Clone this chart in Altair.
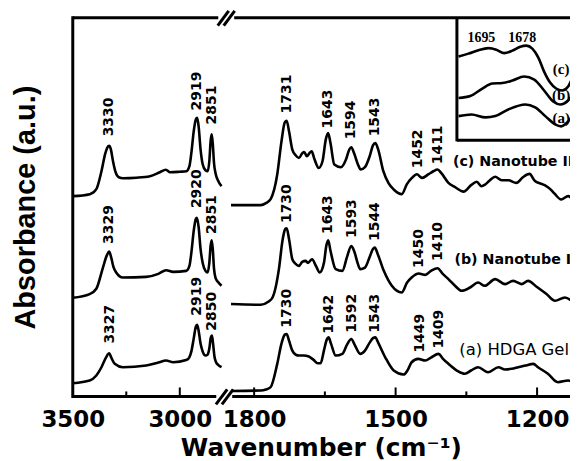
import altair as alt
import pandas as pd

# ---------------- data ----------------
# high-wavenumber window (3500-2800 cm-1)
hi_wave_c = [3500,3420,3390,3366,3348,3338,3330,3322,3312,3300,3285,3265,3203,3140,3093,3065,3045,3000,2969,2955,2945,2935,2925,2919,2912,2903,2893,2880,2870,2862,2856,2851,2846,2840,2833,2822,2805]
hi_abs_c = [2.01,2.03,2.08,2.26,2.44,2.50,2.515,2.48,2.36,2.25,2.20,2.19,2.195,2.21,2.25,2.275,2.25,2.255,2.26,2.31,2.46,2.66,2.78,2.795,2.71,2.48,2.33,2.27,2.26,2.36,2.56,2.63,2.54,2.34,2.24,2.17,2.11]
hi_wave_b = [3500,3421,3390,3359,3340,3330,3320,3310,3297,3266,3157,3100,3064,3031,2970,2955,2945,2935,2925,2920,2912,2903,2893,2880,2870,2862,2856,2851,2846,2840,2833,2822,2805]
hi_abs_b = [0.99,1.027,1.08,1.293,1.42,1.453,1.39,1.30,1.243,1.193,1.20,1.23,1.267,1.25,1.26,1.31,1.46,1.66,1.78,1.793,1.70,1.48,1.34,1.26,1.243,1.34,1.51,1.567,1.48,1.28,1.19,1.15,1.11]
hi_wave_a = [3500,3421,3390,3366,3345,3330,3320,3304,3266,3157,3100,3064,3031,2970,2956,2945,2935,2925,2919,2912,2903,2893,2880,2870,2862,2855,2850,2845,2838,2830,2822,2805]
hi_abs_a = [0.133,0.16,0.21,0.293,0.39,0.433,0.39,0.327,0.293,0.31,0.34,0.36,0.343,0.365,0.39,0.46,0.58,0.70,0.72,0.66,0.53,0.45,0.41,0.42,0.48,0.59,0.61,0.54,0.40,0.34,0.32,0.293]

# low-wavenumber window (1860-1110 cm-1)
lo_wave_c = [1849,1786,1775,1765,1751,1742,1735,1731,1726,1719,1712,1705,1698,1694,1688,1683,1678,1672,1663,1655,1648,1643,1638,1630,1616,1605,1598,1594,1588,1580,1574,1565,1555,1548,1543,1537,1526,1515,1504,1487,1476,1466,1455,1444,1430,1420,1411,1403,1388,1374,1356,1340,1328,1318,1310,1300,1289,1275,1261,1244,1230,1216,1205,1195,1184,1172,1163,1149,1134,1125,1113]
lo_abs_c = [1.92,1.92,1.94,1.98,2.227,2.56,2.75,2.767,2.66,2.477,2.42,2.393,2.44,2.453,2.41,2.44,2.46,2.38,2.293,2.36,2.58,2.643,2.54,2.327,2.30,2.38,2.48,2.50,2.44,2.33,2.277,2.30,2.41,2.52,2.543,2.48,2.26,2.14,2.077,2.03,2.13,2.19,2.23,2.193,2.23,2.26,2.277,2.24,2.143,2.10,2.055,2.12,2.155,2.11,2.127,2.17,2.205,2.17,2.17,2.143,2.20,2.233,2.165,2.14,2.12,2.08,2.035,1.977,2.01,1.98,1.943]
lo_wave_b = [1849,1786,1770,1761,1747,1740,1734,1731,1726,1719,1712,1705,1698,1691,1686,1677,1669,1661,1652,1647,1643,1638,1627,1613,1603,1594,1588,1580,1575,1565,1555,1548,1544,1538,1525,1508,1487,1476,1466,1451,1437,1425,1411,1400,1388,1374,1360,1342,1325,1311,1289,1268,1251,1233,1219,1201,1180,1162,1141,1120,1110]
lo_abs_b = [0.927,0.92,0.95,0.993,1.293,1.56,1.68,1.687,1.58,1.377,1.33,1.31,1.35,1.36,1.34,1.377,1.31,1.243,1.34,1.51,1.567,1.46,1.277,1.26,1.40,1.51,1.46,1.33,1.277,1.293,1.40,1.48,1.493,1.43,1.26,1.11,1.043,1.14,1.193,1.233,1.22,1.26,1.287,1.23,1.177,1.11,1.06,1.093,1.143,1.11,1.177,1.127,1.16,1.127,1.16,1.10,1.027,0.96,0.993,0.943,0.93]
lo_wave_a = [1849,1786,1775,1765,1751,1742,1735,1731,1726,1719,1712,1705,1695,1684,1674,1665,1659,1652,1646,1642,1637,1627,1613,1603,1594,1587,1575,1565,1555,1548,1543,1537,1522,1504,1483,1475,1466,1452,1437,1425,1409,1400,1388,1370,1353,1340,1325,1304,1282,1268,1254,1240,1225,1208,1198,1177,1156,1134,1113]
lo_abs_a = [0.055,0.06,0.07,0.093,0.327,0.53,0.62,0.627,0.56,0.46,0.42,0.41,0.41,0.40,0.367,0.333,0.333,0.46,0.57,0.593,0.53,0.41,0.427,0.52,0.577,0.52,0.427,0.46,0.54,0.585,0.593,0.54,0.393,0.26,0.22,0.26,0.343,0.377,0.36,0.39,0.427,0.38,0.327,0.26,0.227,0.26,0.293,0.243,0.293,0.27,0.277,0.293,0.31,0.327,0.293,0.227,0.143,0.16,0.11]

# peak annotations
hi_peak_text = ["3330","2919","2851","3329","2920","2851","3327","2919","2850"]
hi_peak_wave = [3330,2919,2851,3329,2920,2851,3327,2919,2850]
hi_peak_abs = [2.61,2.87,2.73,1.53,1.89,1.63,0.53,0.81,0.66]
lo_peak_text = ["1731","1643","1594","1543","1452","1411","1730","1643","1593","1544","1450","1410","1730","1642","1592","1543","1449","1409"]
lo_peak_wave = [1731,1643,1594,1543,1452,1411,1730,1643,1593,1544,1450,1410,1730,1642,1592,1543,1449,1409]
lo_peak_abs = [2.84,2.69,2.58,2.61,2.29,2.33,1.74,1.63,1.59,1.56,1.29,1.36,0.69,0.63,0.64,0.64,0.44,0.48]

# sample labels
sample_text = ["(c) Nanotube II", "(b) Nanotube I", "(a) HDGA Gel"]
sample_wave = [1378.5, 1375.3, 1365]
sample_abs = [2.35, 1.37, 0.47]
sample_weight = ["bold", "bold", "normal"]

# axis ticks
hi_tick_labels = [3500, 3000]
hi_major_ticks = [3000]
hi_minor_ticks = [3250]
lo_tick_labels = [1800, 1500, 1200]
lo_major_ticks = [1800, 1500, 1200]
lo_minor_ticks = [1650, 1350]

# inset (1705-1655 cm-1)
in_wave_c = [1704.5,1700.4,1696.2,1692.1,1688.8,1685.5,1682.1,1678.8,1676.3,1673.8,1671.3,1668.9,1666.4,1663.9,1661.4,1658.9,1656.4,1654.8]
in_abs_c = [0.85,0.88,0.915,0.935,0.92,0.885,0.91,0.95,0.96,0.93,0.84,0.70,0.59,0.53,0.51,0.55,0.67,0.73]
in_wave_b = [1704.5,1699.6,1694.6,1690.4,1686.3,1682.1,1677.2,1673.0,1668.9,1665.1,1662.2,1658.9,1656.4,1654.8]
in_abs_b = [0.435,0.455,0.53,0.58,0.585,0.61,0.65,0.62,0.51,0.40,0.37,0.41,0.49,0.53]
in_wave_a = [1704.5,1699.1,1693.3,1689.2,1683.8,1676.7,1672.6,1668.4,1664.3,1661.8,1658.9,1656.0,1654.8]
in_abs_a = [0.253,0.27,0.24,0.253,0.32,0.37,0.34,0.253,0.17,0.15,0.20,0.29,0.32]
in_peak_text = ["1695", "1678"]
in_peak_wave = [1695, 1678]
in_peak_abs = [1.04, 1.04]
in_tag_text = ["(c)", "(b)", "(a)"]
in_tag_wave = [1661.8, 1661.8, 1661.8]
in_tag_abs = [0.73, 0.46, 0.23]

# ---------------- chart ----------------
BLACK = "#000000"
H = 380
WL = 151
WR = 348
SANS = "Liberation Sans"
WIDE = "DejaVu Sans"
SERIF = "Liberation Serif"
one = pd.DataFrame({"k": [0]})


def long_df(parts):
    frames = []
    for w, a, s in parts:
        frames.append(pd.DataFrame({"w": w, "a": a, "s": s}))
    return pd.concat(frames, ignore_index=True)


y_scale = alt.Scale(domain=[0, 3.8], nice=False, zero=False)
xl_scale = alt.Scale(domain=[3500, 2797], nice=False, zero=False)
xr_scale = alt.Scale(domain=[1865.5, 1130.2], nice=False, zero=False)


def x_axis(values, title=None, **kw):
    return alt.Axis(values=values, title=title, ticks=False, tickSize=0, domain=False, grid=False,
                    labelFlush=False, labelOverlap=False, labelBound=False, format="d",
                    labelFont=WIDE, labelFontSize=23, labelFontWeight="bold", labelColor=BLACK,
                    labelPadding=12, **kw)


def rule(**enc):
    return alt.Chart(one).mark_rule(color=BLACK, strokeWidth=3).encode(**enc)


def peak_text(df, xs):
    return alt.Chart(df).mark_text(
        angle=270, align="left", baseline="middle", font=WIDE, fontSize=14, fontWeight="bold", color=BLACK
    ).encode(x=alt.X("w:Q", scale=xs), y=alt.Y("a:Q", scale=y_scale), text="t:N")


# ---- left panel ----
left_df = long_df([(hi_wave_a, hi_abs_a, "a"), (hi_wave_b, hi_abs_b, "b"), (hi_wave_c, hi_abs_c, "c")])
left_lines = alt.Chart(left_df).mark_line(color=BLACK, strokeWidth=2.6, interpolate="monotone", clip=True).encode(
    x=alt.X("w:Q", scale=xl_scale, axis=x_axis(hi_tick_labels)),
    y=alt.Y("a:Q", scale=y_scale, axis=alt.Axis(title="Absorbance (a.u.)", labels=False, ticks=False,
                                                 domain=False, grid=False, titleFont=SANS, titleFontSize=29,
                                                 titleFontWeight="bold", titleColor=BLACK, titlePadding=32)),
    detail="s:N",
)
left_peaks = peak_text(pd.DataFrame({"t": hi_peak_text, "w": hi_peak_wave, "a": hi_peak_abs}), xl_scale)
left_major = alt.Chart(pd.DataFrame({"w": hi_major_ticks})).mark_rule(color=BLACK, strokeWidth=2).encode(
    x=alt.X("w:Q", scale=xl_scale), y=alt.value(H), y2=alt.value(H - 9))
left_minor = alt.Chart(pd.DataFrame({"w": hi_minor_ticks})).mark_rule(color=BLACK, strokeWidth=2).encode(
    x=alt.X("w:Q", scale=xl_scale), y=alt.value(H), y2=alt.value(H - 5))
left_frame = [
    rule(x=alt.value(0), x2=alt.value(146), y=alt.value(0)),
    rule(x=alt.value(0), x2=alt.value(144), y=alt.value(H)),
    rule(x=alt.value(0), y=alt.value(-1.5), y2=alt.value(H + 1.5)),
    # axis-break marks
    rule(x=alt.value(145.5), y=alt.value(8), x2=alt.value(156.5), y2=alt.value(-7)),
    rule(x=alt.value(151.5), y=alt.value(8), x2=alt.value(162.5), y2=alt.value(-7)),
    rule(x=alt.value(143.7), y=alt.value(H + 8), x2=alt.value(155), y2=alt.value(H - 7)),
    rule(x=alt.value(149.7), y=alt.value(H + 8), x2=alt.value(161), y2=alt.value(H - 7)),
]
left = alt.layer(left_lines, left_peaks, left_major, left_minor, *left_frame).properties(width=WL, height=H)

# ---- right panel ----
right_df = long_df([(lo_wave_a, lo_abs_a, "a"), (lo_wave_b, lo_abs_b, "b"), (lo_wave_c, lo_abs_c, "c")])
right_lines = alt.Chart(right_df).mark_line(color=BLACK, strokeWidth=2.6, interpolate="monotone", clip=True).encode(
    x=alt.X("w:Q", scale=xr_scale, axis=x_axis(lo_tick_labels, title="Wavenumber (cm\u207b\u00b9)",
                                                titleFont=WIDE, titleFontSize=25, titleFontWeight="bold",
                                                titleColor=BLACK, titleX=98, titleAlign="center",
                                                titlePadding=4)),
    y=alt.Y("a:Q", scale=y_scale, axis=None),
    detail="s:N",
)
right_peaks = peak_text(pd.DataFrame({"t": lo_peak_text, "w": lo_peak_wave, "a": lo_peak_abs}), xr_scale)
sample_df = pd.DataFrame({"t": sample_text, "w": sample_wave, "a": sample_abs, "fw": sample_weight})
right_samples_b = alt.Chart(sample_df[sample_df.fw == "bold"]).mark_text(
    align="left", baseline="middle", font=WIDE, fontSize=14.3, fontWeight="bold", color=BLACK, clip=True
).encode(x=alt.X("w:Q", scale=xr_scale), y=alt.Y("a:Q", scale=y_scale), text="t:N")
right_samples_n = alt.Chart(sample_df[sample_df.fw == "normal"]).mark_text(
    align="left", baseline="middle", font=WIDE, fontSize=16.5, color=BLACK, clip=True
).encode(x=alt.X("w:Q", scale=xr_scale), y=alt.Y("a:Q", scale=y_scale), text="t:N")
right_major = alt.Chart(pd.DataFrame({"w": lo_major_ticks})).mark_rule(color=BLACK, strokeWidth=2).encode(
    x=alt.X("w:Q", scale=xr_scale), y=alt.value(H), y2=alt.value(H - 9))
right_minor = alt.Chart(pd.DataFrame({"w": lo_minor_ticks})).mark_rule(color=BLACK, strokeWidth=2).encode(
    x=alt.X("w:Q", scale=xr_scale), y=alt.value(H), y2=alt.value(H - 5))
right_frame = [
    rule(x=alt.value(11), x2=alt.value(WR), y=alt.value(0)),
    rule(x=alt.value(9), x2=alt.value(WR), y=alt.value(H)),
    rule(x=alt.value(234.5), y=alt.value(0), y2=alt.value(124)),
    rule(x=alt.value(234.5), x2=alt.value(WR), y=alt.value(123)),
]
main_right = alt.layer(right_lines, right_peaks, right_samples_b, right_samples_n, right_major, right_minor,
                       *right_frame)

in_x = alt.Scale(domain=[1705.4, 1654.8], range=[234, 356], nice=False, zero=False)
in_y = alt.Scale(domain=[0, 1.24], range=[124, 0], nice=False, zero=False)
inset_df = long_df([(in_wave_a, in_abs_a, "a"), (in_wave_b, in_abs_b, "b"), (in_wave_c, in_abs_c, "c")])
inset_lines = alt.Chart(inset_df).mark_line(color=BLACK, strokeWidth=2.6, interpolate="monotone", clip=True).encode(
    x=alt.X("w:Q", scale=in_x, axis=None), y=alt.Y("a:Q", scale=in_y, axis=None), detail="s:N")
inset_peaks = alt.Chart(pd.DataFrame({"t": in_peak_text, "w": in_peak_wave, "a": in_peak_abs})).mark_text(
    align="center", baseline="middle", font=SERIF, fontSize=14, fontWeight="bold", color=BLACK
).encode(x=alt.X("w:Q", scale=in_x, axis=None), y=alt.Y("a:Q", scale=in_y, axis=None), text="t:N")
inset_tags = alt.Chart(pd.DataFrame({"t": in_tag_text, "w": in_tag_wave, "a": in_tag_abs})).mark_text(
    align="center", baseline="middle", font=SERIF, fontSize=15, fontWeight="bold", color=BLACK, clip=True
).encode(x=alt.X("w:Q", scale=in_x, axis=None), y=alt.Y("a:Q", scale=in_y, axis=None), text="t:N")
inset = alt.layer(inset_lines, inset_peaks, inset_tags)

right = alt.layer(main_right, inset).resolve_scale(x="independent", y="independent").properties(width=WR, height=H)

chart = alt.hconcat(left, right, spacing=0, bounds="flush").properties(
    padding={"left": 4, "top": 0, "right": 0, "bottom": 0},
    background="white",
).configure_view(stroke=None).configure_axis(grid=False)

chart.save("out.html", embed_options={"renderer": "svg", "actions": False})
